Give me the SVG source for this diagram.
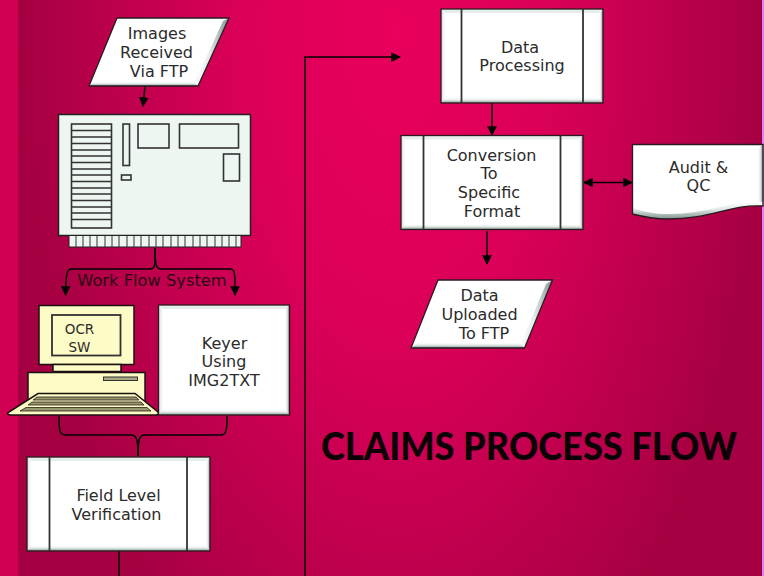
<svg xmlns="http://www.w3.org/2000/svg" width="764" height="576" viewBox="0 0 764 576">
<style>
text{font-family:"DejaVu Sans",Verdana,sans-serif;font-size:16px;fill:#2b2b2b;text-anchor:middle}
.t{font-family:"Lato","Liberation Sans",sans-serif;font-weight:900;font-size:38px;fill:#0a0006;text-anchor:start}
.o{fill:none;stroke:#2a1a20;stroke-width:1.3}
.c{fill:none;stroke:#000;stroke-width:1.5}
.d{fill:none;stroke:#333;stroke-width:1.8}
.f{fill:#fff}
.r{fill:url(#gr)}.b{fill:url(#gb)}.l{fill:url(#gl)}.u{fill:#e6eeea}
.p{fill:#edf6f1;stroke:#222;stroke-width:1.5}
.pc{fill:none;stroke:#333;stroke-width:1.6}
.y{fill:#fdfbc6;stroke:#1a1010;stroke-width:1.5}
.k{fill:#96966f;stroke:#2a2018;stroke-width:.8}
</style>
<defs>
<linearGradient id="gr" x1="0" x2="1" y1="0" y2="0"><stop offset="0" stop-color="#fff"/><stop offset=".45" stop-color="#e4ecea"/><stop offset="1" stop-color="#7f9390"/></linearGradient>
<linearGradient id="gl" x1="0" x2="1" y1="0" y2="0"><stop offset="0" stop-color="#d2dfdb"/><stop offset="1" stop-color="#fff"/></linearGradient>
<linearGradient id="gb" x1="0" x2="0" y1="0" y2="1"><stop offset="0" stop-color="#fff"/><stop offset=".45" stop-color="#dfe8e5"/><stop offset="1" stop-color="#7f9390"/></linearGradient>
<radialGradient id="bg" gradientUnits="userSpaceOnUse" cx="395" cy="30" r="375" gradientTransform="translate(395 30) scale(1 2) translate(-395 -30)">
<stop offset="0" stop-color="#e8005c"/><stop offset="0.4" stop-color="#dc0059"/><stop offset="0.72" stop-color="#bf004d"/><stop offset="1" stop-color="#a50041"/></radialGradient>
<marker id="a" viewBox="0 0 10 10" refX="9" refY="5" markerWidth="6.5" markerHeight="6.5" orient="auto-start-reverse"><path d="M0 0L10 5L0 10z" fill="#000"/></marker>
</defs>
<rect width="764" height="576" fill="url(#bg)"/>
<rect width="18" height="576" fill="#d20050"/>
<rect x="762" width="2" height="576" fill="#e080f0"/>

<g id="connectors">
<path class="c" d="M145 86L143 106" marker-end="url(#a)"/>
<path class="c" d="M155 248C155 264 156 269 150 269H72C67 269 66 272 65.500 295" marker-end="url(#a)"/>
<path class="c" d="M155 248C155 264 156 269 161 269H230C235 269 235 272 235 295" marker-end="url(#a)"/>
<path class="c" d="M59 416C59 432 60 435 66 435H131C137 435 138 440 138 456"/>
<path class="c" d="M227 416C227 432 226 435 220 435H145C139 435 138 440 138 456"/>
<path class="c" d="M119 551V576"/>
<path class="c" d="M305 576V57H400" marker-end="url(#a)"/>
<path class="c" d="M492 103V135" marker-end="url(#a)"/>
<path class="c" d="M584 182.500H632" marker-start="url(#a)" marker-end="url(#a)"/>
<path class="c" d="M487 231V264" marker-end="url(#a)"/>
</g>

<g id="images-received">
<path class="f" d="M117 18H229L198 86H89z"/>
<path class="r" d="M229 18L198 86H193L223 21z"/>
<path class="b" d="M89 86L94 82H194L198 86z"/>
<path class="o" stroke="#6a1020" d="M117 18H229L198 86H89z"/>
<text x="157" y="39">Images</text><text x="156.500" y="58">Received</text><text x="159" y="77">Via FTP</text>
</g>

<g id="work-flow-system">
<rect class="p" x="58.500" y="114.500" width="192" height="121"/>
<rect x="69" y="235.500" width="172" height="11.500" fill="#edf6f1" stroke="#222"/>
<path stroke="#333" stroke-width="1" d="M76 236V247M83 236V247M90 236V247M97 236V247M105 236V247M112 236V247M119 236V247M127 236V247M134 236V247M141 236V247M149 236V247M156 236V247M163 236V247M171 236V247M178 236V247M185 236V247M193 236V247M200 236V247M207 236V247M215 236V247M222 236V247M229 236V247M236 236V247"/>
<rect class="pc" x="71.500" y="124" width="40" height="104"/>
<path class="pc" stroke-width="1.300" d="M72 130.500H111M72 137H111M72 143.500H111M72 150H111M72 156H111M72 162.500H111M72 169H111M72 175H111M72 181.500H111M72 188H111M72 194H111M72 200.500H111M72 207H111M72 213H111M72 219.500H111"/>
<rect class="pc" x="123" y="124" width="6.500" height="41.500"/>
<rect class="pc" x="121.500" y="175" width="9.500" height="5"/>
<rect class="pc" x="138" y="124" width="31" height="24"/>
<rect class="pc" x="179.500" y="124" width="59" height="24"/>
<rect class="pc" x="223.500" y="154" width="16" height="27"/>
<text x="152" y="286" style="font-size:16.300px;fill:#2a0812">Work Flow System</text>
</g>

<g id="ocr-sw">
<rect class="y" x="39" y="305.500" width="95" height="59"/>
<rect x="52" y="315" width="68.500" height="40.500" fill="#fdfbc6" stroke="#333" stroke-width="1.800"/>
<rect class="y" x="53" y="364.500" width="68" height="7"/>
<rect class="y" x="28" y="372.500" width="117" height="40"/>
<rect x="103.500" y="377" width="34" height="3.500" fill="#a8a880" stroke="#333"/>
<path class="y" d="M38 393.500H135L158 412C159 414 158 415 156 415H11C7 415 7 413 9 412z"/>
<path class="k" d="M37 397H136L139 400H33zM32 402H141L144 405H28zM26 407.500H147L151 411H20z"/>
<text x="79.500" y="334" style="font-size:13.500px">OCR</text><text x="79.500" y="351.500" style="font-size:13.500px">SW</text>
</g>

<g id="keyer">
<rect class="f" x="158.500" y="305" width="131" height="110"/>
<path class="u" d="M158.500 305H289.500L285 309H163z"/>
<path class="l" d="M158.500 305L163 309V411L158.500 415z"/>
<path class="r" d="M285 309L289.500 305V415L285 411z"/>
<path class="b" d="M158.500 415L163 410H285L289.500 415z"/>
<rect class="o" x="158.500" y="305" width="131" height="110"/>
<text x="224.500" y="349">Keyer</text><text x="224" y="367">Using</text><text x="224" y="386">IMG2TXT</text>
</g>

<g id="field-level">
<rect class="f" x="27" y="457" width="183" height="94"/>
<path class="u" d="M27 457H210L206 461H31z"/>
<path class="l" d="M27 457L31 461V547L27 551z"/>
<path class="r" d="M206 461L210 457V551L206 547z"/>
<path class="b" d="M27 551L31 546H206L210 551z"/>
<rect class="o" x="27" y="457" width="183" height="94"/>
<path class="d" d="M49.500 457V551M187 457V551"/>
<text x="118.500" y="501">Field Level</text><text x="116.500" y="520">Verification</text>
</g>

<g id="data-processing">
<rect class="f" x="441" y="9" width="162" height="94"/>
<path class="u" d="M441 9H603L599 13H445z"/>
<path class="l" d="M441 9L445 13V99L441 103z"/>
<path class="r" d="M599 13L603 9V103L599 99z"/>
<path class="b" d="M441 103L445 98H599L603 103z"/>
<rect class="o" x="441" y="9" width="162" height="94"/>
<path class="d" d="M461.500 9V103M583 9V103"/>
<text x="520" y="53">Data</text><text x="522" y="71">Processing</text>
</g>

<g id="conversion">
<rect class="f" x="401" y="135.500" width="182" height="94"/>
<path class="u" d="M401 135.500H583L579 139.500H405z"/>
<path class="l" d="M401 135.500L405 139.500V225.500L401 229.500z"/>
<path class="r" d="M579 139.500L583 135.500V229.500L579 225.500z"/>
<path class="b" d="M401 229.500L405 224.500H579L583 229.500z"/>
<rect class="o" x="401" y="135.500" width="182" height="94"/>
<path class="d" d="M423.500 135.500V229.500M560.500 135.500V229.500"/>
<text x="491.500" y="161">Conversion</text><text x="489" y="179">To</text><text x="489" y="198">Specific</text><text x="492" y="217">Format</text>
</g>

<g id="audit-qc">
<path class="f" d="M632.500 144.500H763V206C730 204 712 219 668 219C652 219 640 216 632.500 214z"/>
<path class="r" d="M758 148L763 144.500V206L758 202z"/>
<path class="b" d="M632.500 214V208C645 212 655 214 668 214C712 214 730 200 763 202V206C730 204 712 219 668 219C652 219 640 216 632.500 214z"/>
<path class="o" d="M632.500 144.500H763V206C730 204 712 219 668 219C652 219 640 216 632.500 214z"/>
<text x="698.500" y="173">Audit &amp;</text><text x="698.500" y="191">QC</text>
</g>

<g id="data-uploaded">
<path class="f" d="M438 280H552.500L524.500 348H411z"/>
<path class="r" d="M552.500 280L524.500 348H519L546 284z"/>
<path class="b" d="M411 348L417 343H520L524.500 348z"/>
<path class="o" d="M438 280H552.500L524.500 348H411z"/>
<text x="479.500" y="301">Data</text><text x="479.500" y="320">Uploaded</text><text x="484" y="339">To FTP</text>
</g>

<text class="t" x="321" y="460" textLength="416" lengthAdjust="spacingAndGlyphs">CLAIMS PROCESS FLOW</text>
</svg>
